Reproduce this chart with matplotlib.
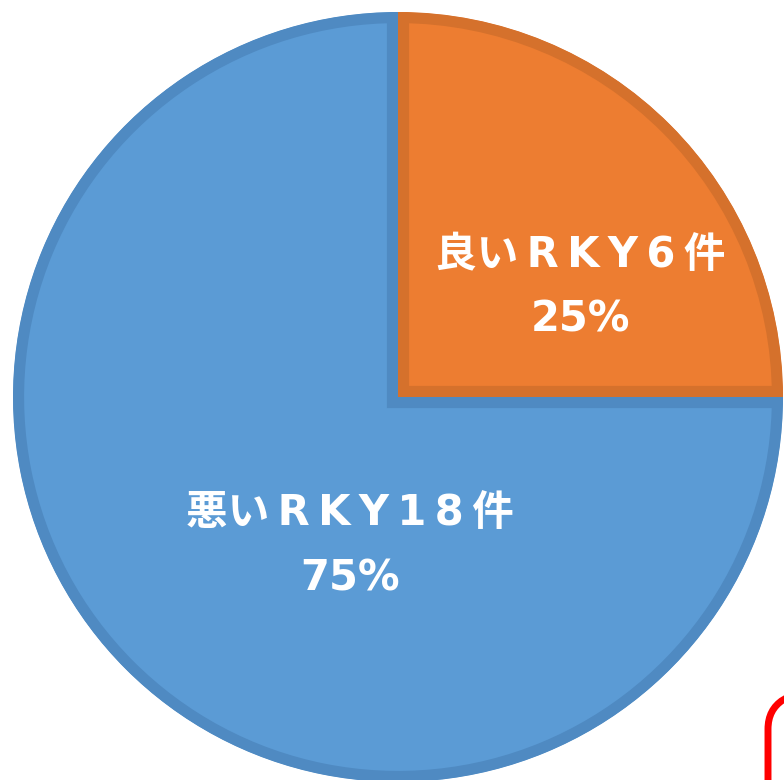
import matplotlib.pyplot as plt
from matplotlib.patches import FancyBboxPatch
import numpy as np

plt.rcParams['font.family'] = ['DejaVu Sans', 'Noto Sans CJK JP']

# Data
categories = ['良いRKY', '悪いRKY']
counts = [6, 18]
colors = ['#ED7D31', '#5B9BD5']
edge_colors = ['#D5712C', '#4F8AC2']

fig = plt.figure(figsize=(7.84, 7.80), dpi=100)
ax = fig.add_axes([13 / 784, -2 / 780, 770 / 784, 770 / 780])

wedges, _ = ax.pie(counts, colors=colors, startangle=90, counterclock=False,
                   radius=1.0, wedgeprops=dict(linewidth=0))
for w, ec in zip(wedges, edge_colors):
    w.set_edgecolor(ec)
    w.set_linewidth(16)
    # keep the border inside the slice
    w.set_clip_on(True)
    w.set_clip_path(w)


def spaced(s):
    # the original font sets latin glyphs wide apart
    out = s[0]
    for a, b in zip(s, s[1:]):
        if not (ord(a) > 0x2000 and ord(b) > 0x2000):
            out += '\u2009'
        out += b
    return out


total = sum(counts)
# label positions (radius, angle in degrees)
label_pos = [(0.553, 31), (0.407, 252)]
for cat, n, (r, a) in zip(categories, counts, label_pos):
    x = r * np.cos(np.radians(a))
    y = r * np.sin(np.radians(a))
    txt = spaced(f'{cat}{n}件') + '\n' + f'{round(n / total * 100)}%'
    ax.text(x, y, txt, color='white', fontsize=30, fontweight='bold',
            ha='center', va='center', linespacing=1.7)

ax.set_xlim(-1, 1)
ax.set_ylim(-1, 1)
ax.axis('off')

# red rounded box partly visible in the bottom-right corner
box = FancyBboxPatch((768 / 784, -60 / 780), 100 / 784, 150 / 780,
                     boxstyle='round,pad=0,rounding_size=0.05',
                     transform=fig.transFigure, facecolor='none',
                     edgecolor='#FF0000', linewidth=5, clip_on=False)
fig.patches.append(box)

fig.savefig('out.png', dpi=100)
